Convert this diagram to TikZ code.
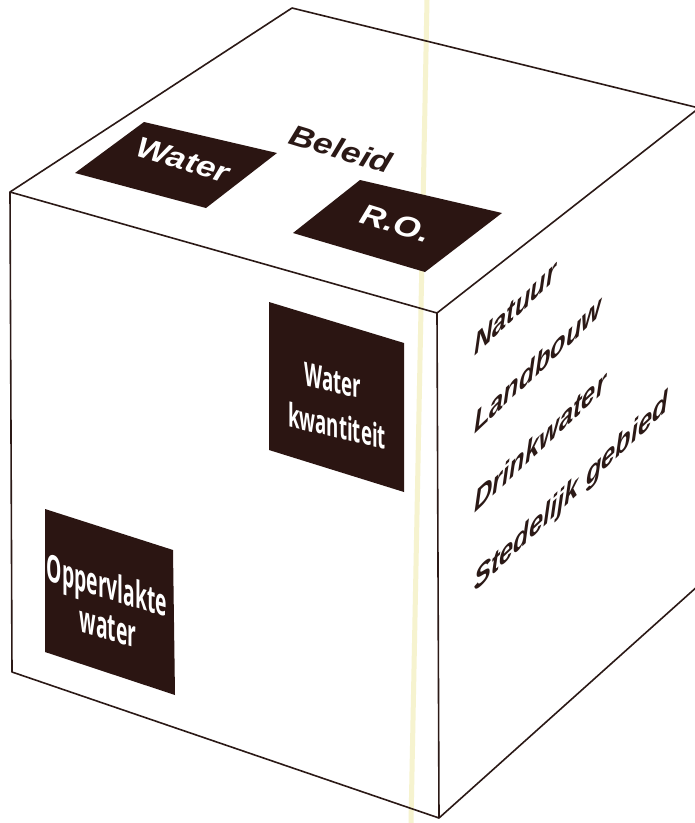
\documentclass[tikz,border=0pt]{standalone}
\usepackage{fontspec}
\setsansfont{Liberation Sans}
\newfontfamily\panelfont{Open Sans}
\usetikzlibrary{calc}
\definecolor{Ink}{HTML}{2B1916}
\definecolor{Panel}{HTML}{2B1512}
\definecolor{Scan}{HTML}{F6F3CF}

\begin{document}
\begin{tikzpicture}[x=1pt,y=-1pt,
  edge/.style={Ink,line width=1.6pt,line join=round},
  panel/.style={fill=Panel},
  topword/.style={inner sep=0pt,font=\sffamily\bfseries\itshape\fontsize{29}{30}\selectfont,
    cm={1.147,-0.350,0.309,0.951,(0,0)}},
  sideword/.style={inner sep=0pt,anchor=base west,text=Ink,
    font=\sffamily\bfseries\itshape\fontsize{30}{30}\selectfont,cm={0.85,0.80,0,1,(0,0)}},
  kwantword/.style={inner sep=0pt,anchor=base,text=white,
    font=\panelfont\bfseries\fontsize{32}{36}\selectfont,
    rotate=-13.5,xslant=-0.24,xscale=0.6},
  opperword/.style={inner sep=0pt,anchor=base,text=white,
    font=\panelfont\bfseries\fontsize{36}{40}\selectfont,
    rotate=-16.7,xslant=-0.3,xscale=0.56}]
\useasboundingbox (0,0) rectangle (695,823);
\fill[white] (0,0) rectangle (695,823);
% scan crease
\draw[Scan,line width=5pt] (427,0) -- (411,823);
% cube corners
\coordinate (A) at (292,8);
\coordinate (B) at (699,108);
\coordinate (C) at (437,313);
\coordinate (D) at (10,192);
\coordinate (E) at (12,672);
\coordinate (F) at (439,818);
\coordinate (G) at (699,585);
\draw[edge] (D) -- (A) -- (B) -- (G) -- (F) -- (E) -- cycle;
\draw[edge] (D) -- (C) -- (B);
\draw[edge] (C) -- (F);
% top face
\fill[panel] (75,173) -- (144,122) -- (277,153) -- (206,208) -- cycle;
\fill[panel] (293,233) -- (360,180) -- (502,213) -- (425,272) -- cycle;
\node[topword,text=white] (water) at (183,160) {Water};
\node[topword,text=white] (ro) at (396,223) {R.O.};
\node[topword,text=Ink] (beleid) at (341,149) {Beleid};
% front face
\fill[panel] (269,302) -- (404,343) -- (404,492) -- (269,450) -- cycle;
\fill[panel] (45,509) -- (173,550) -- (175,695) -- (45,652) -- cycle;
\node[kwantword] (kwant1) at (333,392) {Water};
\node[kwantword] (kwant2) at (337,438) {kwantiteit};
\node[opperword] (opper1) at (107,599) {Oppervlakte};
\node[opperword] (opper2) at (108,640) {water};
% right face
\node[sideword] (natuur) at (474,357) {Natuur};
\node[sideword] (landbouw) at (474,435) {Landbouw};
\node[sideword] (drinkwater) at (474,514) {Drinkwater};
\node[sideword] (stedelijk) at (474,593) {Stedelijk gebied};
\end{tikzpicture}
\end{document}
